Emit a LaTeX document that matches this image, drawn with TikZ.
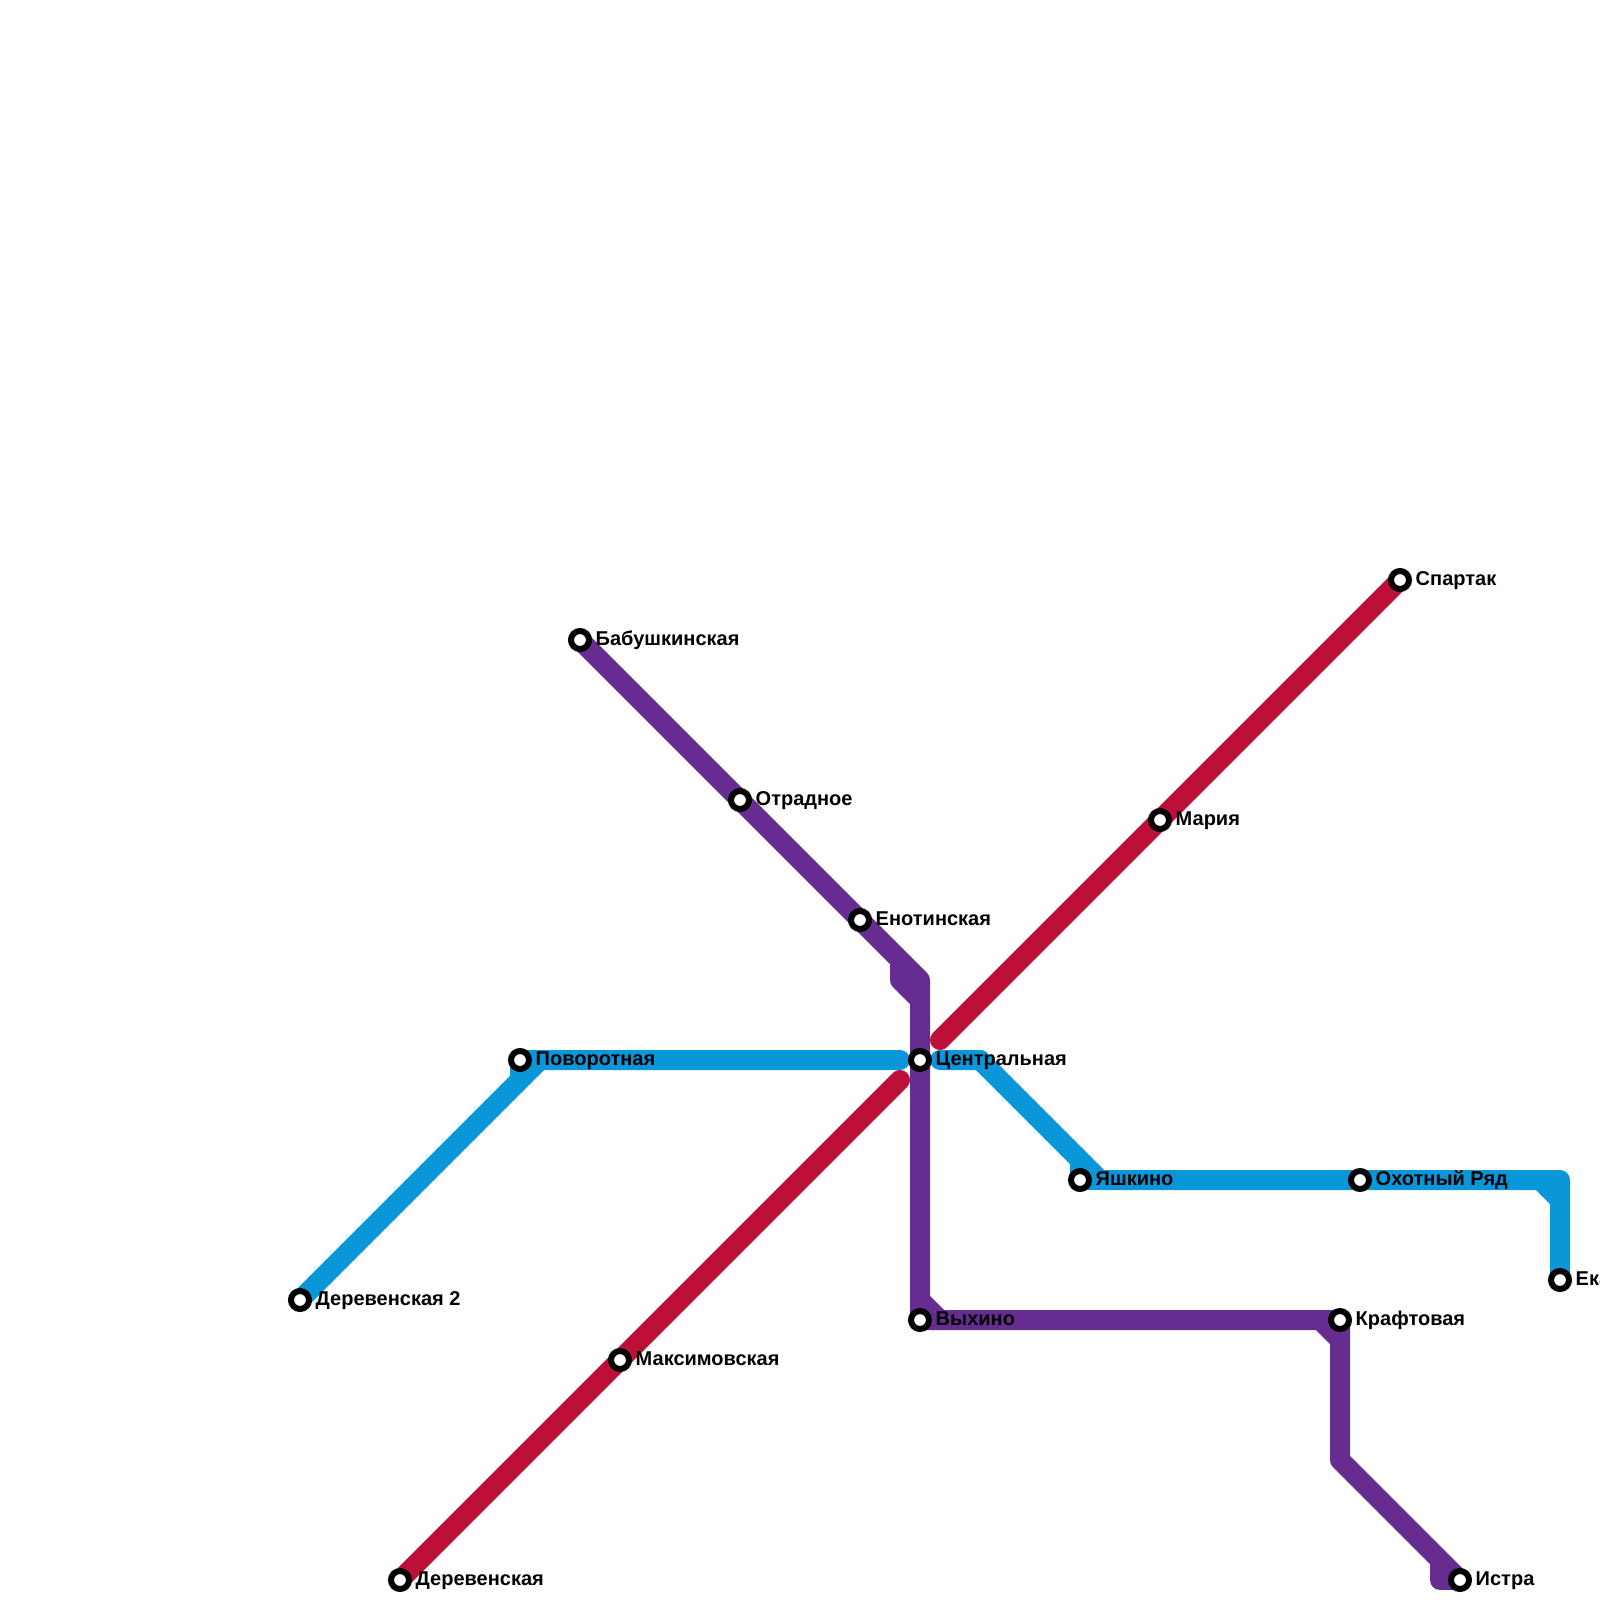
\documentclass[tikz,border=0pt]{standalone}
\usepackage{fontspec}
\setmainfont{Liberation Sans}
\usetikzlibrary{backgrounds}
\definecolor{lineblue}{HTML}{0A97D9}
\definecolor{linepurple}{HTML}{662C90}
\definecolor{linered}{HTML}{BD1038}

\begin{document}
\begin{tikzpicture}[
    x=0.01cm, y=-0.01cm,
    metroline/.style={line width=0.2cm, line join=round, color=#1},
    roundline/.style={metroline=#1, line cap=round},
    station/.style={circle, draw=black, fill=white, line width=0.06cm, minimum size=0.18cm, inner sep=0pt},
    stationlabel/.style={anchor=base west, inner sep=0pt, text=black, font=\fontsize{5.69}{6}\selectfont\bfseries}
]
\useasboundingbox (0,0) rectangle (1600,1600);

% ===== STATIONS: BLUE LINE =====
\node[station] (derev2) at (300, 1300) {};
\node[station] (povorot) at (520, 1060) {};
\node[station] (centr) at (920, 1060) {};
\node[station] (yashkino) at (1080, 1180) {};
\node[station] (ohotny) at (1360, 1180) {};
\node[station] (ekat) at (1560, 1280) {};

% ===== STATIONS: PURPLE LINE =====
\node[station] (babush) at (580, 640) {};
\node[station] (otradnoe) at (740, 800) {};
\node[station] (enot) at (860, 920) {};
\node[station] (vyhino) at (920, 1320) {};
\node[station] (kraft) at (1340, 1320) {};
\node[station] (istra) at (1460, 1580) {};

% ===== STATIONS: RED LINE =====
\node[station] (derev) at (400, 1580) {};
\node[station] (maxim) at (620, 1360) {};
\node[station] (maria) at (1160, 820) {};
\node[station] (spartak) at (1400, 580) {};

% ===== LABELS =====
\node[stationlabel] (derev2_lbl) at ([xshift=0.15cm,yshift=-0.05cm]derev2.center) {Деревенская 2};
\node[stationlabel] (povorot_lbl) at ([xshift=0.15cm,yshift=-0.05cm]povorot.center) {Поворотная};
\node[stationlabel] (centr_lbl) at ([xshift=0.15cm,yshift=-0.05cm]centr.center) {Центральная};
\node[stationlabel] (yashkino_lbl) at ([xshift=0.15cm,yshift=-0.05cm]yashkino.center) {Яшкино};
\node[stationlabel] (ohotny_lbl) at ([xshift=0.15cm,yshift=-0.05cm]ohotny.center) {Охотный Ряд};
\node[stationlabel] (ekat_lbl) at ([xshift=0.15cm,yshift=-0.05cm]ekat.center) {Ека};
\node[stationlabel] (babush_lbl) at ([xshift=0.15cm,yshift=-0.05cm]babush.center) {Бабушкинская};
\node[stationlabel] (otradnoe_lbl) at ([xshift=0.15cm,yshift=-0.05cm]otradnoe.center) {Отрадное};
\node[stationlabel] (enot_lbl) at ([xshift=0.15cm,yshift=-0.05cm]enot.center) {Енотинская};
\node[stationlabel] (vyhino_lbl) at ([xshift=0.15cm,yshift=-0.05cm]vyhino.center) {Выхино};
\node[stationlabel] (kraft_lbl) at ([xshift=0.15cm,yshift=-0.05cm]kraft.center) {Крафтовая};
\node[stationlabel] (istra_lbl) at ([xshift=0.15cm,yshift=-0.05cm]istra.center) {Истра};
\node[stationlabel] (derev_lbl) at ([xshift=0.15cm,yshift=-0.05cm]derev.center) {Деревенская};
\node[stationlabel] (maxim_lbl) at ([xshift=0.15cm,yshift=-0.05cm]maxim.center) {Максимовская};
\node[stationlabel] (maria_lbl) at ([xshift=0.15cm,yshift=-0.05cm]maria.center) {Мария};
\node[stationlabel] (spartak_lbl) at ([xshift=0.15cm,yshift=-0.05cm]spartak.center) {Спартак};

% ===== BENDS AND LINE ENDS =====
\coordinate (blue_bend1) at (540, 1060);
\coordinate (blue_stub1) at (520, 1080);
\coordinate (blue_end1) at (900, 1060);
\coordinate (blue_end2) at (940, 1060);
\coordinate (blue_bend2) at (980, 1060);
\coordinate (blue_bend3) at (1100, 1180);
\coordinate (blue_stub2) at (1080, 1160);
\coordinate (blue_bend4) at (1560, 1180);
\coordinate (blue_cham1) at (1540, 1180);
\coordinate (blue_cham2) at (1560, 1200);
\coordinate (purple_bend1) at (920, 980);
\coordinate (purple_stub1) at (900, 960);
\coordinate (purple_stub2) at (900, 980);
\coordinate (purple_stub3) at (920, 1000);
\coordinate (purple_cham1) at (920, 1300);
\coordinate (purple_cham2) at (940, 1320);
\coordinate (purple_cham3) at (1320, 1320);
\coordinate (purple_cham4) at (1340, 1340);
\coordinate (purple_bend2) at (1340, 1460);
\coordinate (purple_stub4) at (1440, 1560);
\coordinate (purple_stub5) at (1440, 1580);
\coordinate (red_end1) at (900, 1080);
\coordinate (red_end2) at (940, 1040);

\begin{scope}[on background layer]
% ===== BLUE LINE =====
\draw[metroline=lineblue] (povorot.center) -- (blue_stub1);
\draw[metroline=lineblue, line join=miter] (povorot.center) -- (blue_end1);
\draw[metroline=lineblue, line join=miter] (derev2.center) -- (blue_bend1) -- (blue_end1);
\draw[roundline=lineblue] (blue_bend1) -- (blue_end1);
\draw[roundline=lineblue] (blue_end2) -- (blue_bend2);
\draw[metroline=lineblue] (blue_end2) -- (blue_bend2) -- (blue_bend3) -- (blue_bend4) -- (ekat.center);
\draw[metroline=lineblue] (blue_stub2) -- (yashkino.center) -- (blue_bend3);
\draw[metroline=lineblue] (blue_cham1) -- (blue_cham2);

% ===== PURPLE LINE =====
\draw[metroline=linepurple] (babush.center) -- (purple_bend1) -- (vyhino.center) -- (kraft.center) -- (purple_bend2) -- (istra.center);
\draw[metroline=linepurple] (purple_stub1) -- (purple_stub2) -- (purple_stub3);
\draw[metroline=linepurple] (purple_cham1) -- (purple_cham2);
\draw[metroline=linepurple] (purple_cham3) -- (purple_cham4);
\draw[metroline=linepurple] (purple_stub4) -- (purple_stub5) -- (istra.center);

% ===== RED LINE =====
\draw[roundline=linered] (derev.center) -- (red_end1);
\draw[roundline=linered] (red_end2) -- (spartak.center);
\end{scope}

\end{tikzpicture}
\end{document}
